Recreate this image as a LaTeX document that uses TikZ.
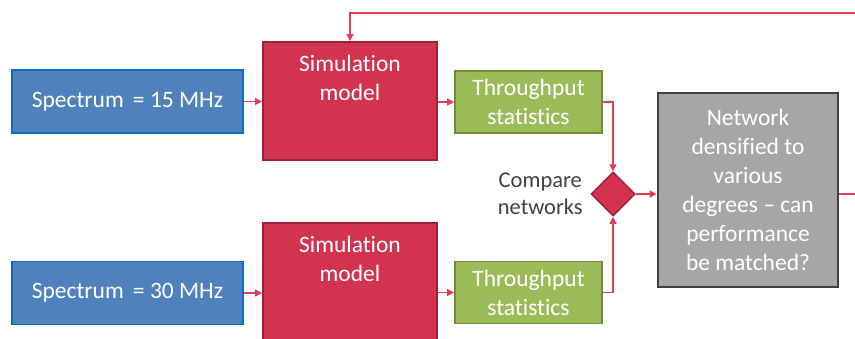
\documentclass[tikz,border=0pt]{standalone}
\usepackage{fontspec}
\setmainfont{Carlito}[Ligatures=NoCommon]
\usetikzlibrary{arrows.meta,shapes.geometric}
\definecolor{specblue}{RGB}{79,129,189}
\definecolor{specedge}{RGB}{10,110,190}
\definecolor{simred}{RGB}{210,52,80}
\definecolor{simedge}{RGB}{160,32,55}
\definecolor{statgreen}{RGB}{155,187,89}
\definecolor{statedge}{RGB}{112,140,52}
\definecolor{resgray}{RGB}{166,166,166}
\definecolor{resedge}{RGB}{64,64,64}
\definecolor{flowred}{RGB}{222,62,88}
\tikzset{
  base/.style={draw, line width=1.8pt, inner sep=0pt, text=white, align=center,
    font=\fontsize{23.5}{29}\selectfont},
  specbox/.style={base, fill=specblue, draw=specedge, minimum width=231pt, minimum height=63pt},
  simbox/.style={base, fill=simred, draw=simedge, minimum width=174pt, minimum height=118pt},
  statbox/.style={base, fill=statgreen, draw=statedge, minimum width=147pt, minimum height=62pt},
  resbox/.style={base, fill=resgray, draw=resedge, line width=2.6pt, minimum width=180pt, minimum height=194pt},
  decision/.style={diamond, draw=simedge, fill=simred, line width=1.5pt, inner sep=0pt, minimum size=44pt},
  flow/.style={draw=flowred, line width=1.3pt, -{Triangle[length=7pt,width=7pt]}},
  line/.style={draw=flowred, line width=1.3pt}
}
\begin{document}
\begin{tikzpicture}[x=1pt, y=-1pt]
\useasboundingbox (0,0) rectangle (855,338);
\clip (0,0) rectangle (855,338);
% upper branch
\node[specbox] (spec1) at (127.5,101.5) {Spectrum\, = 15 MHz};
\node[simbox, label={[anchor=north, text=white, font=\fontsize{23.5}{29}\selectfont, align=center, yshift=-11pt]north:Simulation\\model}] (sim1) at (350,101) {};
\node[statbox] (stat1) at (528.5,102) {Throughput\\statistics};
% lower branch
\node[specbox] (spec2) at (127.5,293) {Spectrum\, = 30 MHz};
\node[simbox, label={[anchor=north, text=white, font=\fontsize{23.5}{29}\selectfont, align=center, yshift=-11pt]north:Simulation\\model}] (sim2) at (350,282) {};
\node[statbox] (stat2) at (528.5,292.5) {Throughput\\statistics};
% comparison and result
\node[decision] (cmp) at (613,194) {};
\node[anchor=east, align=center, text=black!75, font=\fontsize{22.5}{27}\selectfont] (cmplabel) at ([xshift=-4pt]cmp.west) {Compare\\networks};
\node[resbox] (res) at (748,190) {Network\\densified to\\various\\degrees -- can\\performance\\be matched?};
\coordinate (outR) at (870,194);
\coordinate (loopR) at (870,13);
\coordinate (loopL) at (350,13);
% connectors
\draw[flow] (spec1) -- (spec1 -| sim1.west);
\draw[flow] (sim1.east |- stat1) -- (stat1);
\draw[flow] (spec2) -- (spec2 -| sim2.west);
\draw[flow] (sim2.east |- stat2) -- (stat2);
\draw[flow] (stat1.east) -| (cmp.north);
\draw[flow] (stat2.east) -| (cmp.south);
\draw[flow] (cmp.east) -- (cmp -| res.west);
\draw[line] (res.east |- cmp) -- (outR);
\draw[flow] (loopR) -- (loopL) -- (sim1.north);
\end{tikzpicture}
\end{document}
